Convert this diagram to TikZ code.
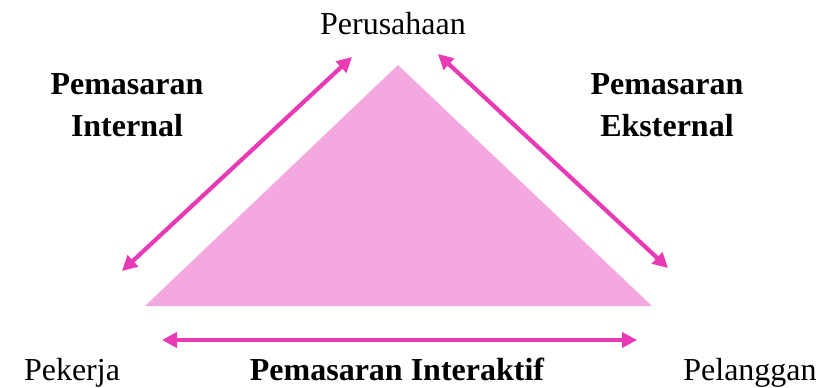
\documentclass[tikz,border=0pt]{standalone}
\usepackage{fontspec}
\setmainfont{Liberation Serif}
\usetikzlibrary{arrows.meta}
\definecolor{trifill}{HTML}{F4A8E0}
\definecolor{arrowcol}{HTML}{E83AB4}
\begin{document}
\begin{tikzpicture}[x=0.5pt,y=-0.5pt,
  lbl/.style={inner sep=0pt,anchor=base,font=\fontsize{16}{21}\selectfont},
  blbl/.style={lbl,font=\fontsize{16}{21}\selectfont\bfseries,align=center},
  dblarrow/.style={draw=arrowcol,line width=2.1pt,{Triangle[length=7.5pt,width=7.5pt]}-{Triangle[length=7.5pt,width=7.5pt]}}]
\useasboundingbox (0,0) rectangle (819,387);
% triangle
\coordinate (apex) at (398,65);
\coordinate (bl) at (145,306);
\coordinate (br) at (652,306);
\fill[trifill] (apex) -- (br) -- (bl) -- cycle;
% labels
\node[lbl] (perusahaan) at (393,34) {Perusahaan};
\node[lbl] (pekerja) at (72,380) {Pekerja};
\node[lbl] (pelanggan) at (750,380) {Pelanggan};
\node[blbl,anchor=north] (internal) at (127,73) {Pemasaran\\Internal};
\node[blbl,anchor=north] (eksternal) at (667,73) {Pemasaran\\Eksternal};
\node[lbl,font=\fontsize{16}{21}\selectfont\bfseries] (interaktif) at (397,380) {Pemasaran Interaktif};
% arrows
\coordinate (a1) at (122,271);
\coordinate (a2) at (352,57);
\coordinate (b1) at (438,54);
\coordinate (b2) at (668,268);
\coordinate (c1) at (162,340);
\coordinate (c2) at (637,340);
\draw[dblarrow] (a1) -- (a2);
\draw[dblarrow] (b1) -- (b2);
\draw[dblarrow] (c1) -- (c2);
\end{tikzpicture}
\end{document}
